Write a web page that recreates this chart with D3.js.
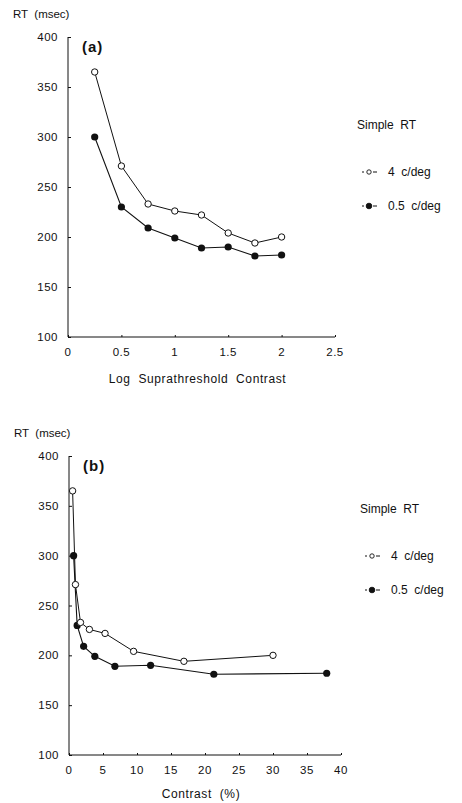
<!DOCTYPE html>
<html>
<head>
<meta charset="utf-8">
<script src="https://cdn.jsdelivr.net/npm/d3@7"></script>
<style>
  body { margin: 0; background: #fff; }
  svg text { font-family: "Liberation Sans", Arial, sans-serif; fill: #111; white-space: pre; }
</style>
</head>
<body>
<div id="chart"></div>
<script>
// Panel (a): log suprathreshold contrast
const logContrast = [0.25, 0.5, 0.75, 1.0, 1.25, 1.5, 1.75, 2.0];
const rtHigh_a = [365, 271, 233, 226, 222, 204, 194, 200]; // 4 c/deg (open)
const rtLow_a = [300, 230, 209, 199, 189, 190, 181, 182];  // 0.5 c/deg (filled)

// Panel (b): contrast in percent
const contrastHigh = [0.53, 0.95, 1.69, 3.0, 5.3, 9.5, 16.9, 30.0];
const contrastLow = [0.68, 1.2, 2.15, 3.8, 6.75, 12.0, 21.3, 37.9];
const rtHigh_b = [365, 271, 233, 226, 222, 204, 194, 200];
const rtLow_b = [300, 230, 209, 199, 189, 190, 181, 182];

const yTicks = [100, 150, 200, 250, 300, 350, 400];
const xTicks_a = [0, 0.5, 1, 1.5, 2, 2.5];
const xTicks_b = [0, 5, 10, 15, 20, 25, 30, 35, 40];
const seriesLabels = ["4  c/deg", "0.5  c/deg"];

const svg = d3.select("#chart").append("svg")
    .attr("width", 462)
    .attr("height", 803);

function drawPanel(opts) {
    const x = d3.scaleLinear().domain(opts.xDomain).range(opts.xRange);
    const y = d3.scaleLinear().domain([100, 400]).range(opts.yRange);

    // Y axis (ticks pointing inward)
    const yAxis = svg.append("g")
        .attr("transform", `translate(${opts.xRange[0]},0)`)
        .call(d3.axisRight(y).tickValues(yTicks).tickSize(3).tickFormat(""));
    yAxis.select(".domain").attr("d", `M0,${y(100)}V${y(400)}`).attr("stroke", "#111");
    yAxis.selectAll(".tick line").attr("stroke", "#111");

    svg.append("g").selectAll("text")
        .data(yTicks)
        .enter().append("text")
        .attr("x", opts.xRange[0] - 10)
        .attr("y", d => y(d))
        .attr("dy", "0.35em")
        .attr("text-anchor", "end")
        .style("font-size", "11.5px")
        .style("letter-spacing", "0.5px")
        .text(d => d);

    // X axis (ticks pointing up)
    const xAxis = svg.append("g")
        .attr("transform", `translate(0,${y(100)})`)
        .call(d3.axisTop(x).tickValues(opts.xTicks).tickSize(2).tickFormat(""));
    xAxis.select(".domain").attr("d", `M${opts.xRange[0]},0H${opts.xRange[1]}`).attr("stroke", "#111");
    xAxis.selectAll(".tick line").attr("stroke", "#111");

    svg.append("g").selectAll("text")
        .data(opts.xTicks)
        .enter().append("text")
        .attr("x", d => x(d))
        .attr("y", y(100) + 19)
        .attr("text-anchor", "middle")
        .style("font-size", "11.5px")
        .style("letter-spacing", "0.5px")
        .text(d => d);

    // Axis titles
    svg.append("text")
        .attr("x", opts.xRange[0] - 55)
        .attr("y", y(400) - 19)
        .style("font-size", "11.5px")
        .text("RT  (msec)");

    svg.append("text")
        .attr("x", (opts.xRange[0] + opts.xRange[1]) / 2 - 4)
        .attr("y", y(100) + opts.titleOffset)
        .attr("text-anchor", "middle")
        .style("font-size", "12px")
        .style("letter-spacing", "0.6px")
        .text(opts.xTitle);

    svg.append("text")
        .attr("x", opts.xRange[0] + 14)
        .attr("y", y(400) + 15)
        .style("font-size", "15px")
        .style("font-weight", "bold")
        .style("letter-spacing", "1px")
        .text(opts.panel);

    // Lines
    const line = d3.line().x(d => x(d[0])).y(d => y(d[1]));
    const high = d3.zip(opts.xHigh, opts.rtHigh);
    const low = d3.zip(opts.xLow, opts.rtLow);

    svg.append("path").datum(low)
        .attr("d", line).attr("fill", "none").attr("stroke", "#111").attr("stroke-width", 1.1);
    svg.append("path").datum(high)
        .attr("d", line).attr("fill", "none").attr("stroke", "#111").attr("stroke-width", 1);

    svg.append("g").selectAll("circle")
        .data(low)
        .enter().append("circle")
        .attr("cx", d => x(d[0]))
        .attr("cy", d => y(d[1]))
        .attr("r", 3.6)
        .attr("fill", "#111");

    svg.append("g").selectAll("circle")
        .data(high)
        .enter().append("circle")
        .attr("cx", d => x(d[0]))
        .attr("cy", d => y(d[1]))
        .attr("r", 3.2)
        .attr("fill", "#fff")
        .attr("stroke", "#111")
        .attr("stroke-width", 1);

    // Legend
    const lx = opts.legendX;
    svg.append("text")
        .attr("x", lx - 12)
        .attr("y", opts.legendY)
        .style("font-size", "12px")
        .text("Simple  RT");

    const items = [
        { label: seriesLabels[0], open: true, dy: opts.legendY + 43 },
        { label: seriesLabels[1], open: false, dy: opts.legendY + 77 }
    ];
    items.forEach(it => {
        const g = svg.append("g").attr("transform", `translate(${lx},${it.dy})`);
        g.append("line").attr("x1", -7).attr("x2", -5).attr("stroke", "#111");
        g.append("line").attr("x1", 4).attr("x2", 8).attr("stroke", "#111");
        g.append("circle")
            .attr("r", it.open ? 2.2 : 2.8)
            .attr("fill", it.open ? "#fff" : "#111")
            .attr("stroke", "#111")
            .attr("stroke-width", 0.9);
        g.append("text")
            .attr("x", 19)
            .attr("dy", "0.35em")
            .style("font-size", "12px")
            .text(it.label);
    });
}

drawPanel({
    panel: "(a)",
    xDomain: [0, 2.5], xRange: [68, 335], yRange: [337, 37],
    xTicks: xTicks_a, xTitle: "Log  Suprathreshold  Contrast", titleOffset: 46,
    xHigh: logContrast, rtHigh: rtHigh_a, xLow: logContrast, rtLow: rtLow_a,
    legendX: 369, legendY: 129
});

drawPanel({
    panel: "(b)",
    xDomain: [0, 40], xRange: [69, 341], yRange: [755, 456],
    xTicks: xTicks_b, xTitle: "Contrast  (%)", titleOffset: 43,
    xHigh: contrastHigh, rtHigh: rtHigh_b, xLow: contrastLow, rtLow: rtLow_b,
    legendX: 372, legendY: 513
});
</script>
</body>
</html>
